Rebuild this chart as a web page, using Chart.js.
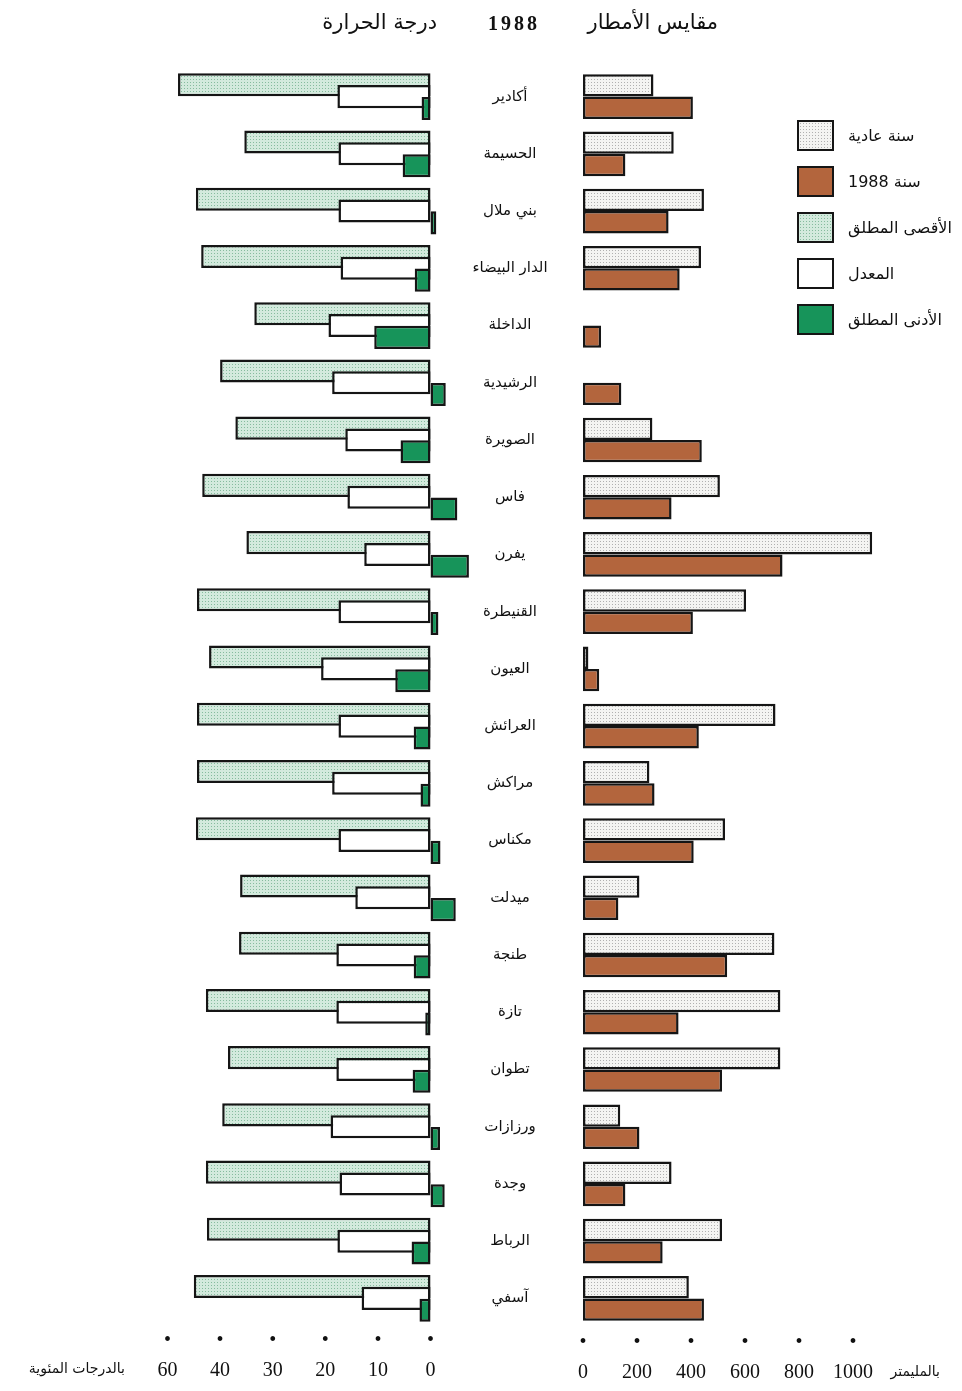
<!DOCTYPE html>
<html lang="ar">
<head>
<meta charset="utf-8">
<script src="https://cdn.jsdelivr.net/npm/chart.js@4.4.1/dist/chart.umd.min.js"></script>
<style>
  html, body { margin: 0; padding: 0; background: #fff; }
  #page { position: relative; width: 962px; height: 1391px; overflow: hidden; color: #111;
          font-family: 'DejaVu Sans', sans-serif; }
  canvas { position: absolute; top: 0; }
  .txt { position: absolute; white-space: nowrap; direction: rtl; line-height: 1; }
  .head { font-size: 21px; top: 12px; }
  .year { position: absolute; left: 488px; top: 12px; font: bold 20px 'Liberation Serif', serif; letter-spacing: 3px; }
  .key { position: absolute; left: 797px; width: 33px; height: 27px; border: 2.5px solid #151515; }
  .keytxt { left: 848px; font-size: 16px; }
  .unit { font-size: 14px; }
</style>
</head>
<body>
<div id="page">
  <canvas id="temp" width="480" height="1391" style="left:0"></canvas>
  <canvas id="rain" width="522" height="1391" style="left:440px"></canvas>

  <div class="txt head" style="right:525px">درجة الحرارة</div>
  <div class="year">1988</div>
  <div class="txt head" style="right:244px">مقايس الأمطار</div>

  <div id="legend"></div>

  <div class="txt unit" style="right:837px; top:1361px">بالدرجات المئوية</div>
  <div class="txt unit" style="right:22px; top:1364px">بالمليمتر</div>
</div>
<script>
// stations, top to bottom
var cities = ['أكادير', 'الحسيمة', 'بني ملال', 'الدار البيضاء', 'الداخلة', 'الرشيدية', 'الصويرة',
  'فاس', 'يفرن', 'القنيطرة', 'العيون', 'العرائش', 'مراكش', 'مكناس', 'ميدلت', 'طنجة', 'تازة',
  'تطوان', 'ورزازات', 'وجدة', 'الرباط', 'آسفي'];

// temperature, degrees C
var tempMax = [48.0, 35.4, 44.6, 43.6, 33.5, 40.0, 37.1, 43.4, 35.0, 44.4, 42.1,
  44.4, 44.4, 44.6, 36.2, 36.4, 42.7, 38.5, 39.6, 42.7, 42.5, 45.0];
var tempMean = [17.7, 17.5, 17.5, 17.1, 19.4, 18.7, 16.2, 15.8, 12.6, 17.5, 20.8,
  17.5, 18.7, 17.5, 14.3, 17.9, 17.9, 17.9, 19.0, 17.3, 17.7, 13.1];
var tempMin = [1.7, 5.3, -1.1, 3.0, 10.7, -2.9, 5.7, -5.1, -7.3, -1.5, 6.7,
  3.2, 1.9, -1.9, -4.8, 3.2, 1.0, 3.4, -1.8, -2.7, 3.6, 2.1];

// rainfall, mm
var rainNormal = [261, 336, 448, 437, null, null, 257, 507, 1071, 604, 20,
  713, 246, 526, 209, 709, 731, 731, 138, 328, 515, 392];
var rain1988 = [407, 157, 317, 358, 67, 142, 440, 328, 739, 407, 60,
  429, 265, 410, 131, 534, 354, 515, 209, 157, 295, 448];

var tempTickValues = [0, 10, 20, 30, 40, 50];
var tempTickLabels = ['0', '10', '20', '30', '40', '60'];
var rainTickValues = [0, 200, 400, 600, 800, 1000];

var legendLabels = ['سنة عادية', 'سنة 1988', 'الأقصى المطلق', 'المعدل', 'الأدنى المطلق'];

function dotted(bg, dot) {
  var c = document.createElement('canvas');
  c.width = 3; c.height = 3;
  var g = c.getContext('2d');
  g.fillStyle = bg; g.fillRect(0, 0, 3, 3);
  g.fillStyle = dot; g.fillRect(1, 1, 1, 1);
  return c;
}
var maxTile = dotted('#d3eadd', '#86bb9e');
var normalTile = dotted('#f4f4f2', '#b0b0b0');
var ctxTmp = document.createElement('canvas').getContext('2d');
var maxFill = ctxTmp.createPattern(maxTile, 'repeat');
var normalFill = ctxTmp.createPattern(normalTile, 'repeat');

var brown = '#b3653d';
var green = '#17945a';
var edge = '#151515';

// legend boxes
var legendFills = ['url(' + normalTile.toDataURL() + ')', brown, 'url(' + maxTile.toDataURL() + ')', '#ffffff', green];
var legend = document.getElementById('legend');
for (var i = 0; i < legendLabels.length; i++) {
  var box = document.createElement('div');
  box.className = 'key';
  box.style.top = (120 + i * 46) + 'px';
  box.style.background = legendFills[i];
  legend.appendChild(box);
  var t = document.createElement('div');
  t.className = 'txt keytxt';
  t.style.top = (128 + i * 46) + 'px';
  t.textContent = legendLabels[i];
  legend.appendChild(t);
}

Chart.defaults.animation = false;
Chart.defaults.events = [];
Chart.defaults.plugins.legend.display = false;
Chart.defaults.plugins.tooltip.enabled = false;

var tickFont = { family: 'Liberation Serif', size: 20, lineHeight: '30px' };

// draw max, then mean, then min on top (grouped positions stay in dataset order)
var drawInOrder = {
  id: 'drawInOrder',
  beforeDatasetsDraw: function(chart) {
    for (var i = 0; i < chart.data.datasets.length; i++) {
      chart.getDatasetMeta(i).controller.draw();
    }
    return false;
  }
};

function barSet(label, data, fill) {
  return {
    label: label,
    data: data,
    backgroundColor: fill,
    borderColor: edge,
    borderWidth: 2.5,
    borderSkipped: false
  };
}

new Chart(document.getElementById('temp'), {
  type: 'bar',
  data: {
    labels: cities,
    datasets: [
      barSet(legendLabels[2], tempMax, maxFill),
      barSet(legendLabels[3], tempMean, '#ffffff'),
      barSet(legendLabels[4], tempMin, green)
    ]
  },
  options: {
    responsive: false,
    indexAxis: 'y',
    categoryPercentage: 0.62,
    barPercentage: 1.95,
    layout: { padding: { left: 167.5, right: 7.4, top: 68, bottom: 0 } },
    scales: {
      x: {
        type: 'linear',
        reverse: true,
        min: -8,
        max: 50,
        grid: { display: false, drawTicks: false },
        border: { display: false },
        afterBuildTicks: function(scale) {
          scale.ticks = tempTickValues.map(function(v) { return { value: v }; });
        },
        afterFit: function(scale) { scale.height = 64; },
        ticks: {
          padding: -1,
          color: '#111',
          font: tickFont,
          maxRotation: 0,
          autoSkip: false,
          callback: function(value, index) { return ['•', tempTickLabels[index]]; }
        }
      },
      y: { display: false }
    }
  },
  plugins: [drawInOrder]
});

// centre the station names near x = 510 on the page
ctxTmp.font = '15px "DejaVu Sans"';
var widest = 0;
cities.forEach(function(c) { widest = Math.max(widest, ctxTmp.measureText(c).width); });
var rainAxisWidth = 143;   // chart area starts at page x 583
var namePadding = (583 - 510) - widest / 2;

new Chart(document.getElementById('rain'), {
  type: 'bar',
  data: {
    labels: cities,
    datasets: [
      barSet(legendLabels[0], rainNormal, normalFill),
      barSet(legendLabels[1], rain1988, brown)
    ]
  },
  options: {
    responsive: false,
    indexAxis: 'y',
    categoryPercentage: 0.78,
    barPercentage: 1.0,
    layout: { padding: { left: 0, right: 82, top: 68, bottom: 0 } },
    scales: {
      x: {
        type: 'linear',
        min: 0,
        max: 1100,
        grid: { display: false, drawTicks: false },
        border: { display: false },
        afterBuildTicks: function(scale) {
          scale.ticks = rainTickValues.map(function(v) { return { value: v }; });
        },
        afterFit: function(scale) { scale.height = 64; },
        ticks: {
          padding: 1,
          color: '#111',
          font: tickFont,
          maxRotation: 0,
          autoSkip: false,
          callback: function(value) { return ['•', String(value)]; }
        }
      },
      y: {
        grid: { display: false, drawTicks: false },
        border: { display: false },
        afterFit: function(scale) { scale.width = rainAxisWidth; },
        ticks: {
          crossAlign: 'center',
          padding: namePadding,
          color: '#111',
          font: { family: 'DejaVu Sans', size: 15 }
        }
      }
    }
  },
  plugins: [drawInOrder]
});
</script>
</body>
</html>
